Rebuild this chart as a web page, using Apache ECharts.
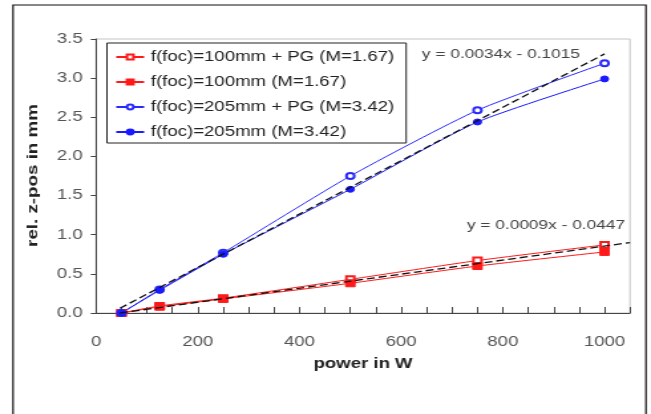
<!DOCTYPE html>
<html><head><meta charset="utf-8">
<script src="https://cdn.jsdelivr.net/npm/echarts@6/dist/echarts.min.js"></script>
<style>
html,body{margin:0;padding:0;background:#fff;overflow:hidden;width:651px;height:414px}
#c{width:490px;height:414px;transform:scaleX(1.328571);transform-origin:0 0}
</style>
</head><body><div id="c"></div>
<script>
// data
const powerW = [50, 125, 250, 500, 750, 1000];
const f100PG = [0, 0.09, 0.19, 0.43, 0.67, 0.87];
const f100 = [0, 0.08, 0.18, 0.38, 0.60, 0.78];
const f205PG = [0, 0.30, 0.77, 1.75, 2.59, 3.19];
const f205 = [0, 0.29, 0.75, 1.58, 2.44, 2.99];
const trend205X = [47, 1000];
const trend205Y = [0.06, 3.31];
const trend100X = [47, 1050];
const trend100Y = [0.0, 0.90];
const seriesNames = ['f(foc)=100mm + PG (M=1.67)', 'f(foc)=100mm (M=1.67)', 'f(foc)=205mm + PG (M=3.42)', 'f(foc)=205mm (M=3.42)'];
const eq205 = 'y = 0.0034x - 0.1015';
const eq100 = 'y = 0.0009x - 0.0447';
const xTickLabels = [0, 200, 400, 600, 800, 1000];

const FONT = '"Liberation Sans", Arial, sans-serif';
const pair = (xs, ys) => xs.map((x, i) => [x, ys[i]]);

const chart = echarts.init(document.getElementById('c'));
function dataSeries(name, ys, color, symbol, size) {
  return {
    name, type: 'line', data: pair(powerW, ys), smooth: 0.2,
    symbol, symbolSize: size, showAllSymbol: true,
    lineStyle: { color, width: 1 },
    itemStyle: { color, borderColor: color, borderWidth: 1 },
    emphasis: { disabled: true }, z: 3
  };
}
function trendSeries(xs, ys) {
  return {
    type: 'line', data: pair(xs, ys), symbol: 'none', silent: true,
    lineStyle: { color: '#111', width: 1.3, type: [6, 3] }, z: 4
  };
}
chart.setOption({
  animation: false,
  backgroundColor: '#fff',
  textStyle: { fontFamily: FONT },
  grid: { left: 72.3, right: 15.8, top: 39, bottom: 101, show: true, borderColor: '#c4c4c4', borderWidth: 1, outerBoundsMode: 'none', containLabel: false },
  legend: {
    data: seriesNames, orient: 'vertical', left: 80.5, top: 43,
    itemWidth: 21, itemHeight: 6, itemGap: 9,
    padding: [6, 9, 3, 6],
    borderColor: '#222', borderWidth: 1, backgroundColor: '#fff',
    textStyle: { fontFamily: FONT, fontSize: 14, color: '#222', lineHeight: 16 },
    selectedMode: false
  },
  xAxis: {
    type: 'value', min: 0, max: 1050, interval: 50,
    name: 'power in W', nameLocation: 'middle', nameGap: 44,
    nameTextStyle: { fontFamily: FONT, fontSize: 14, fontWeight: 'bold', color: '#222' },
    axisLine: { lineStyle: { color: '#444', width: 1 } },
    axisTick: { inside: true, length: 6, lineStyle: { color: '#444' } },
    axisLabel: { fontFamily: FONT, fontSize: 14, color: '#555', margin: 22,
      formatter: v => xTickLabels.indexOf(v) >= 0 ? String(v) : '' },
    splitLine: { show: false }
  },
  yAxis: {
    type: 'value', min: 0, max: 3.5, interval: 0.5,
    axisLine: { show: true, lineStyle: { color: '#444', width: 1 } },
    axisTick: { show: true, inside: false, length: 4, lineStyle: { color: '#444' } },
    axisLabel: { fontFamily: FONT, fontSize: 14, color: '#555', margin: 10, formatter: v => v.toFixed(1) },
    splitLine: { show: false }
  },
  graphic: [
    { type: 'rect', shape: { x: 9.8, y: 5, width: 476.4, height: 430 }, style: { fill: 'none', stroke: '#111', lineWidth: 1.2 }, z: -1, silent: true },
    { type: 'text', x: 24.8, y: 175.5, rotation: Math.PI / 2, scaleX: 1.34, scaleY: 0.75,
      style: { text: 'rel. z-pos in mm', fontFamily: FONT, fontSize: 14, fontWeight: 'bold', fill: '#222', align: 'center', verticalAlign: 'middle' } },
    { type: 'text', x: 317.6, y: 54.5, style: { text: eq205, fontFamily: FONT, fontSize: 13, fill: '#444', align: 'left', verticalAlign: 'middle' }, z: 10 },
    { type: 'text', x: 351.5, y: 225, style: { text: eq100, fontFamily: FONT, fontSize: 13, fill: '#444', align: 'left', verticalAlign: 'middle' }, z: 10 }
  ],
  series: [
    dataSeries(seriesNames[0], f100PG, '#ff1a1a', 'emptyRect', 6),
    dataSeries(seriesNames[1], f100, '#ff1a1a', 'rect', 7),
    dataSeries(seriesNames[2], f205PG, '#2a2aff', 'emptyCircle', 6),
    dataSeries(seriesNames[3], f205, '#1a1aff', 'circle', 6),
    trendSeries(trend205X, trend205Y),
    trendSeries(trend100X, trend100Y)
  ]
});
</script></body></html>
